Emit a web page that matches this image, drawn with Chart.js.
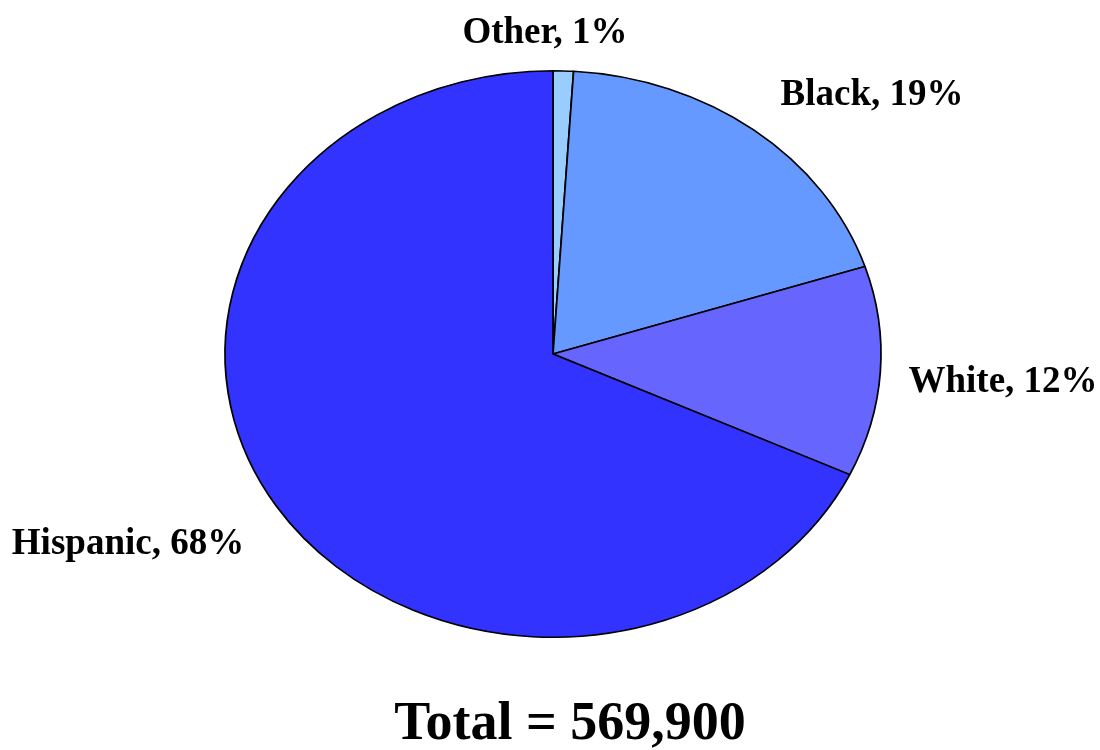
<!DOCTYPE html>
<html lang="en">
<head>
    <meta charset="UTF-8">
    <title>Total = 569,900</title>
    <script src="https://cdn.jsdelivr.net/npm/chart.js"></script>
    <style>
        body {
            margin: 0;
            padding: 0;
            background: #ffffff;
        }
        .wrap {
            width: 1100px;
            height: 750px;
        }
    </style>
</head>
<body>
    <div class="wrap">
        <canvas id="grafico" width="1100" height="750"></canvas>
    </div>

    <script>
        const categorias = ['Other', 'Black', 'White', 'Hispanic'];
        const porcentajes = [1, 19, 12, 68];
        const colores = ['#99CCFF', '#6699FF', '#6666FF', '#3333FF'];
        const totalTexto = 'Total = 569,900';

        // the original pie is an ellipse: stretch the arcs horizontally
        const RX = 328;
        const elipse = {
            id: 'elipse',
            beforeDatasetsDraw(chart) {
                const arc = chart.getDatasetMeta(0).data[0];
                const c = chart.ctx;
                c.save();
                c.translate(arc.x, arc.y);
                c.scale(RX / arc.outerRadius, 1);
                c.translate(-arc.x, -arc.y);
            },
            afterDatasetsDraw(chart) {
                chart.ctx.restore();
            }
        };

        // label anchors (centre of text) relative to pie centre
        const posEtiquetas = [
            [-8, -321],
            [319, -259],
            [450, 28],
            [-425, 190]
        ];

        const etiquetas = {
            id: 'etiquetas',
            afterDraw(chart) {
                const arc = chart.getDatasetMeta(0).data[0];
                const c = chart.ctx;
                c.save();
                c.fillStyle = '#000';
                c.textAlign = 'center';
                c.textBaseline = 'middle';
                c.font = 'bold 37px "Liberation Serif", "Times New Roman", serif';
                categorias.forEach((cat, i) => {
                    const p = posEtiquetas[i];
                    c.fillText(cat + ', ' + porcentajes[i] + '%', arc.x + p[0], arc.y + p[1]);
                });
                c.font = 'bold 54px "Liberation Serif", "Times New Roman", serif';
                c.fillText(totalTexto, 570, 725);
                c.restore();
            }
        };

        new Chart(document.getElementById('grafico'), {
            type: 'pie',
            data: {
                labels: categorias,
                datasets: [{
                    data: porcentajes,
                    backgroundColor: colores,
                    borderColor: '#000000',
                    borderWidth: 1.5,
                    borderAlign: 'center'
                }]
            },
            options: {
                responsive: false,
                animation: false,
                layout: {
                    padding: { top: 70, bottom: 112, left: 225, right: 219 }
                },
                plugins: {
                    legend: { display: false },
                    tooltip: { enabled: false }
                }
            },
            plugins: [elipse, etiquetas]
        });
    </script>
</body>
</html>
